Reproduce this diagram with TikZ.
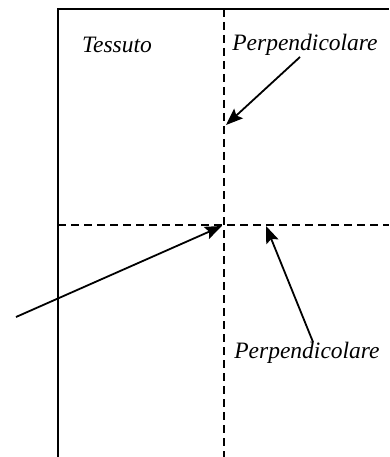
\documentclass[tikz,border=0pt]{standalone}
\usepackage{fontspec}
\setmainfont{Liberation Serif}
\usetikzlibrary{arrows.meta}
\begin{document}
\begin{tikzpicture}[x=1pt,y=-1pt,
  frame/.style={line width=1.9pt},
  dashline/.style={line width=1.9pt,dash pattern=on 8pt off 5pt},
  arr/.style={line width=1.8pt,-{Stealth[length=17pt,width=13pt,inset=3pt]}},
  lbl/.style={font=\fontsize{23.5}{26}\selectfont\itshape,inner sep=0pt}]
\useasboundingbox (0,0) rectangle (389,457);
\draw[frame] (58,457) -- (58,9) -- (389,9);
\draw[dashline] (224,9) -- (224,457);
\draw[dashline] (58,225) -- (389,225);
\node[lbl] (tess) at (117,45) {Tessuto};
\node[lbl] (perp1) at (305,45) {Perpendicolare};
\node[lbl] (perp2) at (307,353) {Perpendicolare};
\coordinate (s1) at (300,57);
\coordinate (t1) at (226,125);
\coordinate (s2) at (16,317);
\coordinate (t2) at (222,226);
\coordinate (s3) at (313,342);
\coordinate (t3) at (266,226);
\draw[arr] (s1) -- (t1);
\draw[arr] (s2) -- (t2);
\draw[arr] (s3) -- (t3);
\end{tikzpicture}
\end{document}
